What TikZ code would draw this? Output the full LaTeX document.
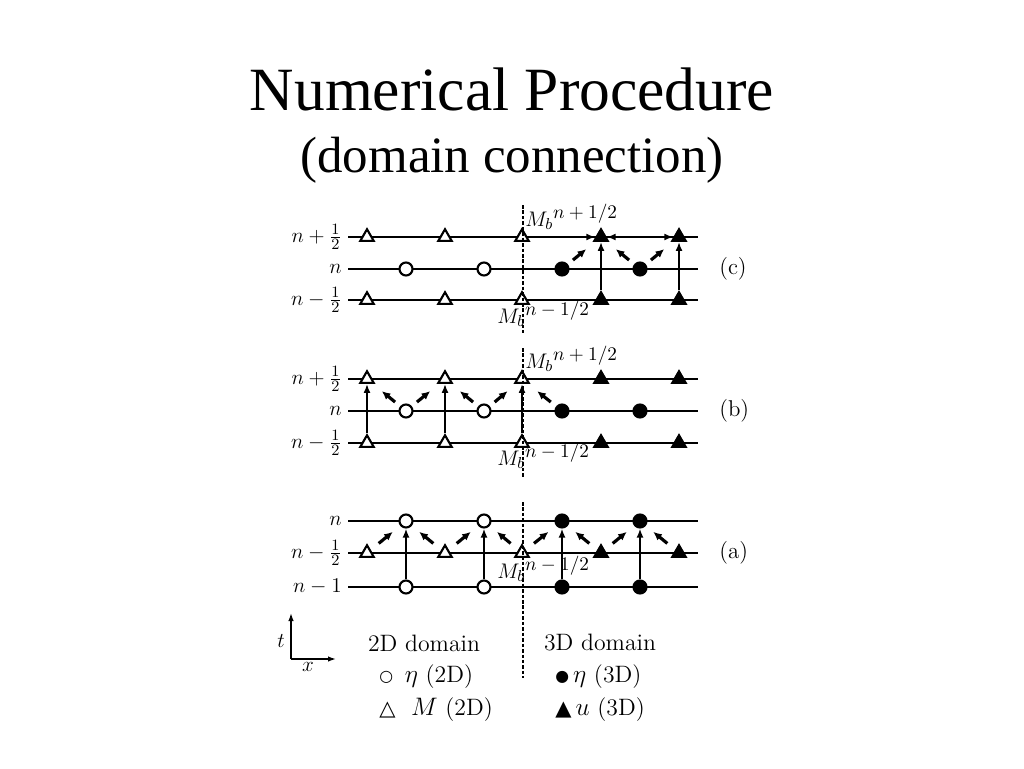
\documentclass[tikz,border=0pt]{standalone}
\usepackage{fontspec}
\newfontfamily\titlefont{Liberation Serif}
\newfontfamily\symfont{DejaVu Sans}
\usetikzlibrary{calc, arrows.meta, shapes.geometric}

\newcommand{\supsz}[1]{\mbox{\fontsize{10.5}{12}\selectfont$#1$}}

\begin{document}
\begin{tikzpicture}[x=0.02cm, y=-0.02cm, >=Latex, font=\fontsize{13}{15}\selectfont,
  row/.style={line width=0.8pt},
  rowb/.style={line width=1.3pt},
  otri/.style={regular polygon, regular polygon sides=3, draw, fill=white,
               line width=1.2pt, minimum size=3.1mm, inner sep=0pt},
  ftri/.style={otri, fill=black},
  ocirc/.style={circle, draw, fill=white, line width=1.2pt,
                minimum size=2.6mm, inner sep=0pt},
  fcirc/.style={ocirc, fill=black},
  varr/.style={-{Latex[length=1.8mm,width=1.4mm]}, line width=1.1pt},
  harr/.style={{Latex[length=1.8mm,width=1.4mm]}-{Latex[length=1.8mm,width=1.4mm]}, line width=1.1pt},
  darr/.style={-{Latex[length=1.7mm,width=1.6mm]}, line width=1.8pt},
  axis/.style={-{Latex[length=1.6mm,width=1.1mm]}, line width=0.8pt},
  bnd/.style={line width=0.9pt, dash pattern=on 2pt off 1.1pt},
  lbl/.style={anchor=east, inner sep=0pt},
  tag/.style={anchor=west, inner sep=0pt},
  mb/.style={anchor=base west, inner sep=0pt},
  leg/.style={font=\fontsize{13.5}{16}\selectfont, inner sep=0pt}]
\useasboundingbox (0,0) rectangle (1024,768);

% --- title
\node[font=\titlefont\fontsize{35}{40}\selectfont, anchor=base] (title) at (512,110) {Numerical Procedure};
\node[font=\titlefont\fontsize{29}{33}\selectfont, anchor=base] (subtitle) at (512,172) {(domain connection)};

% --- time levels
\draw[row]  (348,237) -- (698,237);
\draw[rowb] (348,269) -- (698,269);
\draw[row]  (348,300) -- (698,300);
\draw[row]  (348,379) -- (698,379);
\draw[rowb] (348,411) -- (698,411);
\draw[row]  (348,443) -- (698,443);
\draw[row]  (348,521) -- (698,521);
\draw[row]  (348,553) -- (698,553);
\draw[row]  (348,587) -- (698,587);

\node[lbl] (cl1) at (342,237) {$n+\frac{1}{2}$};
\node[lbl] (cl2) at (342,269) {$n$};
\node[lbl] (cl3) at (342,300) {$n-\frac{1}{2}$};
\node[lbl] (bl1) at (342,379) {$n+\frac{1}{2}$};
\node[lbl] (bl2) at (342,411) {$n$};
\node[lbl] (bl3) at (342,443) {$n-\frac{1}{2}$};
\node[lbl] (al1) at (342,521) {$n$};
\node[lbl] (al2) at (342,553) {$n-\frac{1}{2}$};
\node[lbl] (al3) at (342,587) {$n-1$};

\node[tag] (ctag) at (719,269) {(c)};
\node[tag] (btag) at (719,411) {(b)};
\node[tag] (atag) at (719,553) {(a)};

% --- (c) step
\foreach \x [count=\i] in {367,445,522} {
  \node[otri] (cT\i) at (\x,237) {};
  \node[otri] (cB\i) at (\x,300) {};
}
\foreach \x [count=\i from 4] in {601,679} {
  \node[ftri] (cT\i) at (\x,237) {};
  \node[ftri] (cB\i) at (\x,300) {};
}
\node[ocirc] (cM1) at (406,269) {};
\node[ocirc] (cM2) at (484,269) {};
\node[fcirc] (cM3) at (562,269) {};
\node[fcirc] (cM4) at (640,269) {};

% --- (b) step
\foreach \x [count=\i] in {367,445,522} {
  \node[otri] (bT\i) at (\x,379) {};
  \node[otri] (bB\i) at (\x,443) {};
}
\foreach \x [count=\i from 4] in {601,679} {
  \node[ftri] (bT\i) at (\x,379) {};
  \node[ftri] (bB\i) at (\x,443) {};
}
\node[ocirc] (bM1) at (406,411) {};
\node[ocirc] (bM2) at (484,411) {};
\node[fcirc] (bM3) at (562,411) {};
\node[fcirc] (bM4) at (640,411) {};

% --- (a) step
\foreach \x [count=\i] in {406,484} {
  \node[ocirc] (aT\i) at (\x,521) {};
  \node[ocirc] (aB\i) at (\x,587) {};
}
\foreach \x [count=\i from 3] in {562,640} {
  \node[fcirc] (aT\i) at (\x,521) {};
  \node[fcirc] (aB\i) at (\x,587) {};
}
\node[otri] (aM1) at (367,553) {};
\node[otri] (aM2) at (445,553) {};
\node[otri] (aM3) at (522,553) {};
\node[ftri] (aM4) at (601,553) {};
\node[ftri] (aM5) at (679,553) {};

% --- 2D/3D boundary
\coordinate (d1) at (523,205);
\coordinate (d2) at (523,333);
\coordinate (d3) at (523,348);
\coordinate (d4) at (523,477);
\coordinate (d5) at (523,502);
\coordinate (d6) at (523,678);
\draw[bnd] (d1) -- (d2);
\draw[bnd] (d3) -- (d4);
\draw[bnd] (d5) -- (d6);

\node[mb] (cmb1) at (525,226) {$M_b{}^{\supsz{n+1/2}}$};
\node[mb] (cmb2) at (497,323) {$M_b{}^{\supsz{n-1/2}}$};
\node[mb] (bmb1) at (525,368) {$M_b{}^{\supsz{n+1/2}}$};
\node[mb] (bmb2) at (497,465) {$M_b{}^{\supsz{n-1/2}}$};
\node[mb] (amb)  at (497,578) {$M_b{}^{\supsz{n-1/2}}$};

% --- (c) connections
\draw[varr] (cT3) -- (cT4);
\draw[harr] (cT4) -- (cT5);
\draw[varr] (cB4) -- (cT4);
\draw[varr] (cB5) -- (cT5);
\draw[darr] ($(cM3)!.28!(cT4)$) -- ($(cM3)!.62!(cT4)$);
\draw[darr] ($(cM4)!.28!(cT4)$) -- ($(cM4)!.62!(cT4)$);
\draw[darr] ($(cM4)!.28!(cT5)$) -- ($(cM4)!.62!(cT5)$);

% --- (b) connections
\draw[varr] (bB1) -- (bT1);
\draw[varr] (bB2) -- (bT2);
\draw[varr] (bB3) -- (bT3);
\draw[darr] ($(bM1)!.28!(bT1)$) -- ($(bM1)!.62!(bT1)$);
\draw[darr] ($(bM1)!.28!(bT2)$) -- ($(bM1)!.62!(bT2)$);
\draw[darr] ($(bM2)!.28!(bT2)$) -- ($(bM2)!.62!(bT2)$);
\draw[darr] ($(bM2)!.28!(bT3)$) -- ($(bM2)!.62!(bT3)$);
\draw[darr] ($(bM3)!.28!(bT3)$) -- ($(bM3)!.62!(bT3)$);

% --- (a) connections
\foreach \i in {1,...,4}
  \draw[varr] (aB\i) -- (aT\i);
\draw[darr] ($(aM1)!.3!(aT1)$) -- ($(aM1)!.66!(aT1)$);
\draw[darr] ($(aM2)!.3!(aT1)$) -- ($(aM2)!.66!(aT1)$);
\draw[darr] ($(aM2)!.3!(aT2)$) -- ($(aM2)!.66!(aT2)$);
\draw[darr] ($(aM3)!.3!(aT2)$) -- ($(aM3)!.66!(aT2)$);
\draw[darr] ($(aM3)!.3!(aT3)$) -- ($(aM3)!.66!(aT3)$);
\draw[darr] ($(aM4)!.3!(aT3)$) -- ($(aM4)!.66!(aT3)$);
\draw[darr] ($(aM4)!.3!(aT4)$) -- ($(aM4)!.66!(aT4)$);
\draw[darr] ($(aM5)!.3!(aT4)$) -- ($(aM5)!.66!(aT4)$);

% --- legend
\coordinate (org) at (291,659);
\coordinate (tend) at (291,613);
\coordinate (xend) at (336,659);
\draw[axis] (org) -- (tend);
\draw[axis] (org) -- (xend);
\node[inner sep=0pt] (tlab) at (281,641) {$t$};
\node[inner sep=0pt] (xlab) at (308,667) {$x$};

\node[leg] (dom2) at (424,643) {2D domain};
\node[leg, anchor=west] (eta2) at (379,677) {\raisebox{1pt}{\symfont\small ○}\ \,$\eta$\ (2D)};
\node[leg, anchor=west] (m2) at (379,710) {{\symfont\fontsize{12}{12}\selectfont △}\ \ $M$\ (2D)};
\node[leg, anchor=west] (eta3) at (555,677) {\raisebox{1pt}{\symfont\small ●}\,$\eta$\ (3D)};
\node[leg] (dom3) at (600,643) {3D domain};
\node[leg, anchor=west] (u3) at (555,710) {{\symfont\fontsize{12}{12}\selectfont ▲}\,$u$\ (3D)};
\end{tikzpicture}
\end{document}
